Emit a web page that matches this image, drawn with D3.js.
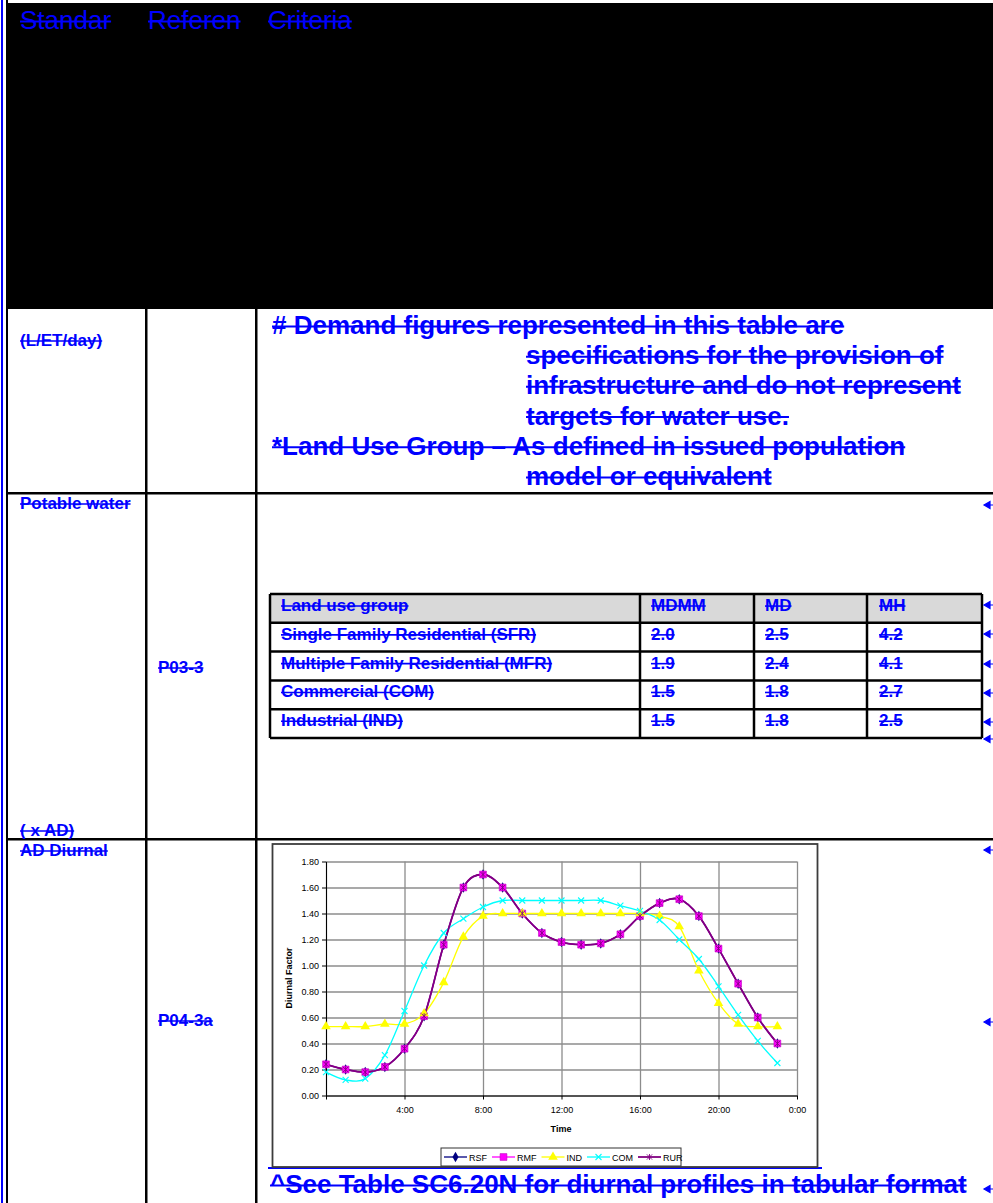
<!DOCTYPE html>
<html>
<head>
<meta charset="utf-8">
<script src="https://cdn.jsdelivr.net/npm/d3@7"></script>
<style>
  body { margin: 0; background: #fff; }
  svg text { font-family: "Liberation Sans", Arial, sans-serif; }
</style>
</head>
<body>
<div id="page"></div>
<script>
// ---- data ----
var hours = [0,1,2,3,4,5,6,7,8,9,10,11,12,13,14,15,16,17,18,19,20,21,22,23];

var rsf = [0.24,0.20,0.18,0.22,0.36,0.61,1.16,1.60,1.70,1.60,1.40,1.25,1.18,1.16,1.17,1.24,1.38,1.48,1.51,1.38,1.13,0.86,0.60,0.40];
var rmf = [0.24,0.20,0.18,0.22,0.36,0.61,1.16,1.60,1.70,1.60,1.40,1.25,1.18,1.16,1.17,1.24,1.38,1.48,1.51,1.38,1.13,0.86,0.60,0.40];
var ind = [0.53,0.53,0.53,0.55,0.55,0.63,0.87,1.22,1.38,1.40,1.40,1.40,1.40,1.40,1.40,1.40,1.40,1.38,1.30,0.96,0.71,0.55,0.53,0.53];
var com = [0.18,0.12,0.13,0.31,0.65,1.00,1.25,1.36,1.45,1.50,1.50,1.50,1.50,1.50,1.50,1.46,1.42,1.35,1.20,1.05,0.84,0.62,0.42,0.25];
var rur = [0.24,0.20,0.18,0.22,0.36,0.61,1.16,1.60,1.70,1.60,1.40,1.25,1.18,1.16,1.17,1.24,1.38,1.48,1.51,1.38,1.13,0.86,0.60,0.40];

var seriesNames = ["RSF","RMF","IND","COM","RUR"];

var yTicks = [0.0,0.2,0.4,0.6,0.8,1.0,1.2,1.4,1.6,1.8];
var xTicks = [0,4,8,12,16,20,24];
var xTickLabels = ["","4:00","8:00","12:00","16:00","20:00","0:00"];

var landUse = ["Single Family Residential (SFR)","Multiple Family Residential (MFR)","Commercial (COM)","Industrial (IND)"];
var mdmm = [2.0,1.9,1.5,1.5];
var md = [2.5,2.4,1.8,1.8];
var mh = [4.2,4.1,2.7,2.5];

var headerWords = ["Standar","Referen","Criteria"];
var noteLines = ["# Demand figures represented in this table are",
                 "specifications for the provision of",
                 "infrastructure and do not represent",
                 "targets for water use.",
                 "*Land Use Group \u2013 As defined in issued population",
                 "model or equivalent"];
var noteIndent = [false,true,true,true,false,true];

// ---- page ----
var W = 993, H = 1203, BLUE = "#0000ff";

var svg = d3.select("#page").append("svg")
    .attr("width", W)
    .attr("height", H);

// struck-through blue text, the way the document shows tracked deletions
function blueText(x, y, str, size, weight){
	var t = svg.append("text")
		.attr("x", x).attr("y", y)
		.attr("fill", BLUE)
		.style("font-size", size + "px")
		.style("font-weight", weight || "bold")
		.text(str);
	var w = t.node().getComputedTextLength();
	svg.append("line")
		.attr("x1", x).attr("x2", x + w)
		.attr("y1", y - size*0.29).attr("y2", y - size*0.29)
		.attr("stroke", BLUE)
		.attr("stroke-width", size > 20 ? 2 : 1.6);
	return t;
}

// black header band
svg.append("rect").attr("x", 6).attr("y", 3).attr("width", W - 6).attr("height", 306).attr("fill", "#000");

// left margin bars
svg.append("rect").attr("x", 1).attr("y", 0).attr("width", 2).attr("height", H).attr("fill", BLUE);
svg.append("rect").attr("x", 6).attr("y", 0).attr("width", 2).attr("height", H).attr("fill", "#000");

// outer table rules
[493, 839].forEach(function(y){
	svg.append("rect").attr("x", 6).attr("y", y - 1).attr("width", W).attr("height", 2.5).attr("fill", "#000");
});
[146, 256].forEach(function(x){
	svg.append("rect").attr("x", x - 1).attr("y", 309).attr("width", 2.5).attr("height", H).attr("fill", "#000");
});

// header words
var headerX = [20, 148, 268];
headerWords.forEach(function(w, i){ blueText(headerX[i], 29, w, 26, "normal"); });

// left column labels
blueText(20, 346, "(L/ET/day)", 17);
blueText(20, 509, "Potable water", 17);
blueText(20, 836, "( x AD)", 17);
blueText(20, 856, "AD Diurnal", 17);
blueText(158, 673, "P03-3", 17);
blueText(158, 1026, "P04-3a", 17);

// note paragraph
noteLines.forEach(function(s, i){
	blueText(noteIndent[i] ? 526 : 272, 334 + i*30.2, s, 26);
});

// ---- peaking factor table ----
var tRows = d3.scaleBand().domain(["head"].concat(landUse)).range([594, 738]);
var tCols = [270, 640, 754, 867, 982];

svg.append("rect").attr("x", tCols[0]).attr("y", tRows("head"))
	.attr("width", tCols[4] - tCols[0]).attr("height", tRows.bandwidth())
	.attr("fill", "#d9d9d9");

tRows.domain().forEach(function(r){
	svg.append("line").attr("x1", tCols[0]).attr("x2", tCols[4])
		.attr("y1", tRows(r)).attr("y2", tRows(r))
		.attr("stroke", "#000").attr("stroke-width", 2.5);
});
svg.append("line").attr("x1", tCols[0]).attr("x2", tCols[4])
	.attr("y1", 738).attr("y2", 738).attr("stroke", "#000").attr("stroke-width", 2.5);
tCols.forEach(function(x){
	svg.append("line").attr("x1", x).attr("x2", x).attr("y1", 594).attr("y2", 738)
		.attr("stroke", "#000").attr("stroke-width", 2.5);
});

var f1 = d3.format(".1f");
blueText(281, tRows("head") + 17, "Land use group", 17);
blueText(651, tRows("head") + 17, "MDMM", 17);
blueText(765, tRows("head") + 17, "MD", 17);
blueText(879, tRows("head") + 17, "MH", 17);
landUse.forEach(function(name, i){
	var y = tRows(name) + 17;
	blueText(281, y, name, 17);
	blueText(651, y, f1(mdmm[i]), 17);
	blueText(765, y, f1(md[i]), 17);
	blueText(879, y, f1(mh[i]), 17);
});

// little paragraph arrows on the right edge
[505, 605, 634, 664, 693, 722, 739, 850, 1022, 1189].forEach(function(y){
	svg.append("path")
		.attr("d", "M984," + y + "L990," + (y - 3.5) + "L990," + (y + 3.5) + "Z M989," + y + "L994," + y)
		.attr("fill", BLUE).attr("stroke", BLUE).attr("stroke-width", 1.2);
});

// blue anchor underline below the chart
svg.append("line").attr("x1", 268).attr("x2", 822).attr("y1", 1168).attr("y2", 1168)
	.attr("stroke", BLUE).attr("stroke-width", 2);

blueText(270, 1193, "^See Table SC6.20N for diurnal profiles in tabular format", 26);

// ---- diurnal chart ----
var chart = svg.append("g").attr("class", "chart");

chart.append("rect")
	.attr("x", 272.5).attr("y", 844)
	.attr("width", 545).attr("height", 323)
	.attr("fill", "#fff")
	.attr("stroke", "#3c3c3c").attr("stroke-width", 1.8);

var x = d3.scaleLinear().domain([0, 24]).range([326, 797]);
var y = d3.scaleLinear().domain([0, 1.8]).range([1095.5, 861.5]);

// gridlines
chart.append("g")
	.attr("transform", "translate(0," + y(0) + ")")
	.call(d3.axisBottom(x).tickValues(xTicks).tickSize(-(y(0) - y(1.8))).tickFormat(""))
	.call(function(g){ g.select(".domain").remove(); })
	.selectAll("line").attr("stroke", "#8c8c8c").attr("stroke-width", 1.3);

chart.append("g")
	.attr("transform", "translate(" + x(0) + ",0)")
	.call(d3.axisLeft(y).tickValues(yTicks).tickSize(-(x(24) - x(0))).tickFormat(""))
	.call(function(g){ g.select(".domain").remove(); })
	.selectAll("line").attr("stroke", "#8c8c8c").attr("stroke-width", 1.3);

// axes
var yAxis = chart.append("g")
	.attr("transform", "translate(" + x(0) + ",0)")
	.call(d3.axisLeft(y).tickValues(yTicks).tickFormat(d3.format(".2f")).tickSize(4).tickSizeOuter(0).tickPadding(3));

var xAxis = chart.append("g")
	.attr("transform", "translate(0," + y(0) + ")")
	.call(d3.axisBottom(x).tickValues(xTicks).tickFormat(function(d, i){ return xTickLabels[i]; }).tickSize(4).tickSizeOuter(0).tickPadding(7));

[yAxis, xAxis].forEach(function(a){
	a.select(".domain").attr("stroke", "#000").attr("stroke-width", 1);
	a.selectAll(".tick line").attr("stroke", "#000");
	a.selectAll("text").style("font-size", "9px").attr("fill", "#000")
		.style("font-family", "'Liberation Sans', Arial, sans-serif");
});

chart.append("text")
	.attr("transform", "translate(292,978) rotate(-90)")
	.attr("text-anchor", "middle")
	.style("font-size", "9px").style("font-weight", "bold")
	.text("Diurnal Factor");

chart.append("text")
	.attr("x", 561).attr("y", 1132)
	.attr("text-anchor", "middle")
	.style("font-size", "9px").style("font-weight", "bold")
	.text("Time");

// series
var seriesValues = [rsf, rmf, ind, com, rur];
var seriesColors = ["#000080", "#ff00ff", "#ffff00", "#00ffff", "#800080"];
var seriesMarks = ["diamond", "square", "triangle", "x", "star"];
var seriesWidth = [1.3, 1.3, 1.3, 1.3, 1.8];

function marker(sel, kind, color){
	if (kind === "diamond") {
		sel.attr("d", d3.symbol(d3.symbolDiamond, 32)).attr("fill", color);
	} else if (kind === "square") {
		sel.attr("d", d3.symbol(d3.symbolSquare, 46)).attr("fill", color)
			.attr("stroke", "#c000c0").attr("stroke-width", 0.6);
	} else if (kind === "triangle") {
		sel.attr("d", d3.symbol(d3.symbolTriangle, 40)).attr("fill", color);
	} else if (kind === "x") {
		sel.attr("d", "M-3,-3L3,3M-3,3L3,-3").attr("fill", "none").attr("stroke", color).attr("stroke-width", 1.1);
	} else {
		sel.attr("d", "M-2.6,-2.6L2.6,2.6M-2.6,2.6L2.6,-2.6M0,-3L0,3").attr("fill", "none").attr("stroke", color).attr("stroke-width", 0.9);
	}
}

var line = d3.line()
	.x(function(d, i){ return x(hours[i]); })
	.y(function(d){ return y(d); })
	.curve(d3.curveCardinal.tension(0));

var lineLayer = chart.append("g");
var markLayer = chart.append("g");

seriesNames.forEach(function(name, s){
	lineLayer.append("path")
		.datum(seriesValues[s])
		.attr("d", line)
		.attr("fill", "none")
		.attr("stroke", seriesColors[s])
		.attr("stroke-width", seriesWidth[s]);
});
seriesNames.forEach(function(name, s){
	markLayer.append("g").attr("class", "marks-" + name)
		.selectAll("path")
		.data(seriesValues[s])
		.enter().append("path")
		.attr("transform", function(d, i){ return "translate(" + x(hours[i]) + "," + y(d) + ")"; })
		.call(marker, seriesMarks[s], seriesColors[s]);
});

// legend
var legend = chart.append("g");
legend.append("rect")
	.attr("x", 441).attr("y", 1148).attr("width", 240).attr("height", 18)
	.attr("fill", "#fff").attr("stroke", "#333").attr("stroke-width", 1);

var lx = 444;
seriesNames.forEach(function(name, s){
	legend.append("line")
		.attr("x1", lx).attr("x2", lx + 23).attr("y1", 1157).attr("y2", 1157)
		.attr("stroke", seriesColors[s]).attr("stroke-width", seriesWidth[s]);
	legend.append("path")
		.attr("transform", "translate(" + (lx + 11.5) + ",1157)")
		.call(marker, seriesMarks[s], seriesColors[s]);
	var t = legend.append("text")
		.attr("x", lx + 25).attr("y", 1160.5)
		.style("font-size", "9px")
		.text(name);
	lx += 25 + t.node().getComputedTextLength() + 5;
});
</script>
</body>
</html>
